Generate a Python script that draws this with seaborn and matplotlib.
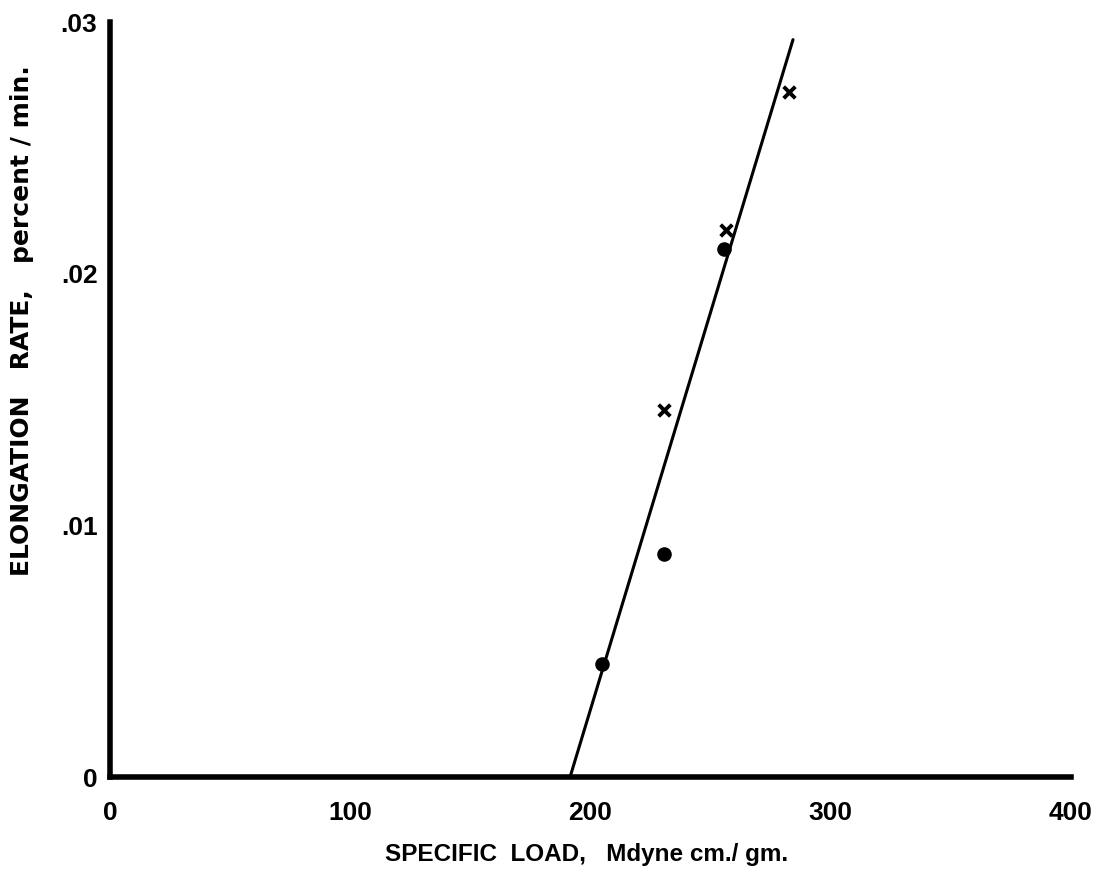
import matplotlib
matplotlib.use("Agg")
import matplotlib.pyplot as plt
import seaborn as sns
import pandas as pd

# Measured creep data
load_dots = [205, 230.5, 255.5]
rate_dots = [0.0045, 0.00885, 0.0210]
load_crosses = [230.5, 256.5, 282.5]
rate_crosses = [0.0146, 0.02175, 0.0272]

# Fitted line through the data
fit_load = [191.5, 284.3]
fit_rate = [0.0, 0.0293]

x_ticks = [0, 100, 200, 300, 400]
x_tick_labels = ["0", "100", "200", "300", "400"]
y_ticks = [0, 0.01, 0.02, 0.03]
y_tick_labels = ["0", ".01", ".02", ".03"]

sns.set_style("white")
plt.rcParams["font.family"] = ["Liberation Sans", "DejaVu Sans"]
plt.rcParams["text.color"] = "black"
plt.rcParams["axes.labelcolor"] = "black"
plt.rcParams["xtick.color"] = "black"
plt.rcParams["ytick.color"] = "black"

fig = plt.figure(figsize=(11, 8.81), dpi=100)
ax = fig.add_axes([0.1, 0.118, 0.8736, 0.857])

dots = pd.DataFrame({"load": load_dots, "rate": rate_dots})
crosses = pd.DataFrame({"load": load_crosses, "rate": rate_crosses})
fit = pd.DataFrame({"load": fit_load, "rate": fit_rate})

sns.lineplot(data=fit, x="load", y="rate", ax=ax, color="black", linewidth=2.2)
sns.scatterplot(data=dots, x="load", y="rate", ax=ax, color="black",
                marker="o", s=110, edgecolor="black", linewidth=0, zorder=3)
sns.scatterplot(data=crosses, x="load", y="rate", ax=ax, color="black",
                marker="x", s=70, linewidth=2.8, zorder=3)

ax.set_xlim(0, 400)
ax.set_ylim(0, 0.03)
ax.set_xticks(x_ticks)
ax.set_xticklabels(x_tick_labels)
ax.set_yticks(y_ticks)
ax.set_yticklabels(y_tick_labels)

for lab in ax.get_xticklabels() + ax.get_yticklabels():
    lab.set_fontweight("bold")
    lab.set_fontsize(19)

ax.tick_params(axis="both", direction="in", length=11, width=2.2, color="black")
ax.tick_params(axis="x", pad=17)
ax.tick_params(axis="y", pad=9)

sns.despine(ax=ax, top=True, right=True)
for side in ("left", "bottom"):
    ax.spines[side].set_linewidth(4)
    ax.spines[side].set_color("black")

ax.set_xlabel("SPECIFIC  LOAD,   Mdyne cm./ gm.", fontsize=17.5, fontweight="bold")
ax.set_ylabel("ELONGATION   RATE,   percent / min.", fontsize=18, fontweight="bold",
              fontfamily="DejaVu Sans")
ax.xaxis.set_label_coords(0.496, -0.088)
ax.yaxis.set_label_coords(-0.079, 0.605)

fig.savefig("out.png", dpi=100, facecolor="white")
